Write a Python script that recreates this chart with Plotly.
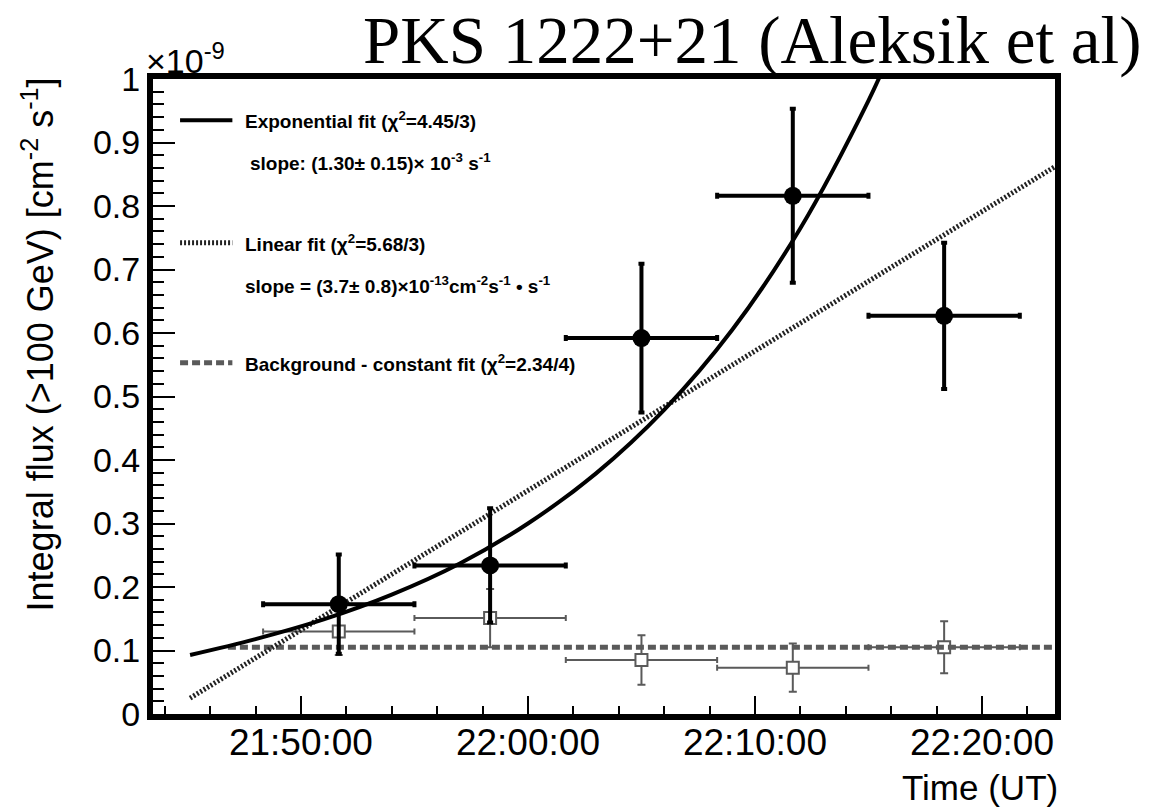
import plotly.graph_objects as go

# --- data (flux in units of 1e-9 cm^-2 s^-1), times in UT ---
bin_centers = ["21:51:40", "21:58:20", "22:05:00", "22:11:40", "22:18:20"]
bin_half_width_s = 200
flux = [0.173, 0.234, 0.592, 0.816, 0.627]
flux_err = [0.078, 0.090, 0.117, 0.137, 0.115]
bkg_flux = [0.130, 0.151, 0.085, 0.073, 0.105]
bkg_err = [0.037, 0.046, 0.039, 0.038, 0.041]

exp_fit_times = ["21:45:07", "21:48:00", "21:51:00", "21:54:00", "21:57:00", "22:00:00",
                 "22:03:00", "22:06:00", "22:09:00", "22:12:00", "22:15:00", "22:16:00"]
exp_fit_vals = [0.093, 0.118, 0.149, 0.188, 0.237, 0.300, 0.379, 0.479, 0.605, 0.765, 0.966, 1.045]

lin_fit_times = ["21:45:07", "22:23:13"]
lin_fit_vals = [0.025, 0.862]

const_fit_times = ["21:46:47", "22:23:13"]
const_fit_vals = [0.105, 0.105]

x_range = ["21:43:29", "22:23:13"]
x_ticks = ["21:50:00", "22:00:00", "22:10:00", "22:20:00"]
y_ticks = [0, 0.1, 0.2, 0.3, 0.4, 0.5, 0.6, 0.7, 0.8, 0.9, 1.0]
y_ticklabels = ["0", "0.1", "0.2", "0.3", "0.4", "0.5", "0.6", "0.7", "0.8", "0.9", "1"]

legend_lines = [
    "Exponential fit (χ<sup>2</sup>=4.45/3)",
    "slope: (1.30± 0.15)× 10<sup>-3</sup> s<sup>-1</sup>",
    "Linear fit (χ<sup>2</sup>=5.68/3)",
    "slope = (3.7± 0.8)×10<sup>-13</sup>cm<sup>-2</sup>s<sup>-1</sup> • s<sup>-1</sup>",
    "Background - constant fit (χ<sup>2</sup>=2.34/4)",
]


def minutes(s):
    """UT clock string -> minutes after 21:00:00 (numeric axis coordinate)."""
    h, m, sec = (int(v) for v in s.split(":"))
    return (h - 21) * 60 + m + sec / 60.0


SANS = "Liberation Sans, Arial, Helvetica, sans-serif"
GRAY = "#5a5a5a"
half_w_min = bin_half_width_s / 60.0

fig = go.Figure()

# background points
fig.add_trace(go.Scatter(
    x=[minutes(s) for s in bin_centers], y=bkg_flux, mode="markers",
    marker=dict(symbol="square", size=12, color="white", line=dict(color=GRAY, width=2)),
    error_x=dict(type="constant", value=half_w_min, color=GRAY, thickness=2, width=3),
    error_y=dict(type="data", array=bkg_err, color=GRAY, thickness=2, width=4),
    showlegend=False,
))

# constant fit
fig.add_trace(go.Scatter(
    x=[minutes(s) for s in const_fit_times], y=const_fit_vals, mode="lines",
    line=dict(color=GRAY, width=5, dash="8px,4px"), showlegend=False,
))

# linear fit
fig.add_trace(go.Scatter(
    x=[minutes(s) for s in lin_fit_times], y=lin_fit_vals, mode="lines",
    line=dict(color="#222222", width=5, dash="2px,2px"), showlegend=False,
))

# exponential fit
fig.add_trace(go.Scatter(
    x=[minutes(s) for s in exp_fit_times], y=exp_fit_vals, mode="lines",
    line=dict(color="black", width=4, shape="spline"), showlegend=False,
))

# source points
fig.add_trace(go.Scatter(
    x=[minutes(s) for s in bin_centers], y=flux, mode="markers",
    marker=dict(symbol="circle", size=18, color="black"),
    error_x=dict(type="constant", value=half_w_min, color="black", thickness=4, width=3),
    error_y=dict(type="data", array=flux_err, color="black", thickness=4, width=3),
    showlegend=False,
))

# legend samples (shapes in axis-domain coordinates)
sample_styles = [
    (0.935, dict(color="black", width=4)),
    (0.742, dict(color="#222222", width=5, dash="2px,2px")),
    (0.553, dict(color=GRAY, width=5, dash="8px,4px")),
]
for yy, ln in sample_styles:
    fig.add_shape(type="line", xref="x domain", yref="y domain",
                  x0=0.030, x1=0.088, y0=yy, y1=yy, line=ln)

legend_pos = [(0.0998, 0.935), (0.105, 0.869), (0.0998, 0.742), (0.0998, 0.676), (0.0998, 0.553)]
for txt, (xx, yy) in zip(legend_lines, legend_pos):
    fig.add_annotation(text="<b>" + txt + "</b>", xref="x domain", yref="y domain",
                       x=xx, y=yy, xanchor="left", yanchor="middle", showarrow=False,
                       font=dict(family=SANS, size=19, color="black"))

# title
fig.add_annotation(text="PKS 1222+21 (Aleksik et al)", xref="x domain", yref="y domain",
                   x=1.0976, y=1.061, xanchor="right", yanchor="middle", showarrow=False,
                   font=dict(family="Liberation Serif, Times New Roman, serif", size=67, color="black"))
# exponent
fig.add_annotation(text="×10<sup>-9</sup>", xref="x domain", yref="y domain",
                   x=-0.010, y=0.996, xanchor="left", yanchor="bottom", showarrow=False,
                   font=dict(family=SANS, size=34, color="black"))
# y title
fig.add_annotation(text="Integral flux (>100 GeV) [cm<sup>-2</sup> s<sup>-1</sup>]",
                   xref="x domain", yref="y domain", x=-0.1275, y=0.582,
                   xanchor="center", yanchor="middle", textangle=-90, showarrow=False,
                   font=dict(family=SANS, size=36, color="black"))
# x title
fig.add_annotation(text="Time (UT)", xref="x domain", yref="y domain",
                   x=1.0055, y=-0.115, xanchor="right", yanchor="middle", showarrow=False,
                   font=dict(family=SANS, size=35, color="black"))

fig.update_layout(
    width=1153, height=808, autosize=False,
    margin=dict(l=153, r=98, t=79, b=94),
    plot_bgcolor="white", paper_bgcolor="white",
    showlegend=False,
)
fig.update_xaxes(
    range=[minutes(x_range[0]), minutes(x_range[1])],
    tickvals=[minutes(s) for s in x_ticks], ticktext=x_ticks,
    ticks="inside", ticklen=18, tickwidth=2, tickcolor="black",
    minor=dict(tick0=0, dtick=2, ticks="inside", ticklen=8, tickwidth=2, tickcolor="black", showgrid=False),
    showline=True, linecolor="black", linewidth=6, mirror=True,
    showgrid=False, zeroline=False, ticklabelstandoff=-9,
    tickfont=dict(family=SANS, size=37, color="black"),
)
fig.update_yaxes(
    range=[0, 1], tickvals=y_ticks, ticktext=y_ticklabels,
    ticks="inside", ticklen=22, tickwidth=2, tickcolor="black",
    minor=dict(dtick=0.02, ticks="inside", ticklen=11, tickwidth=2, tickcolor="black", showgrid=False),
    showline=True, linecolor="black", linewidth=6, mirror=True,
    showgrid=False, zeroline=False,
    tickfont=dict(family=SANS, size=34, color="black"),
)

fig.write_html("out.html")
